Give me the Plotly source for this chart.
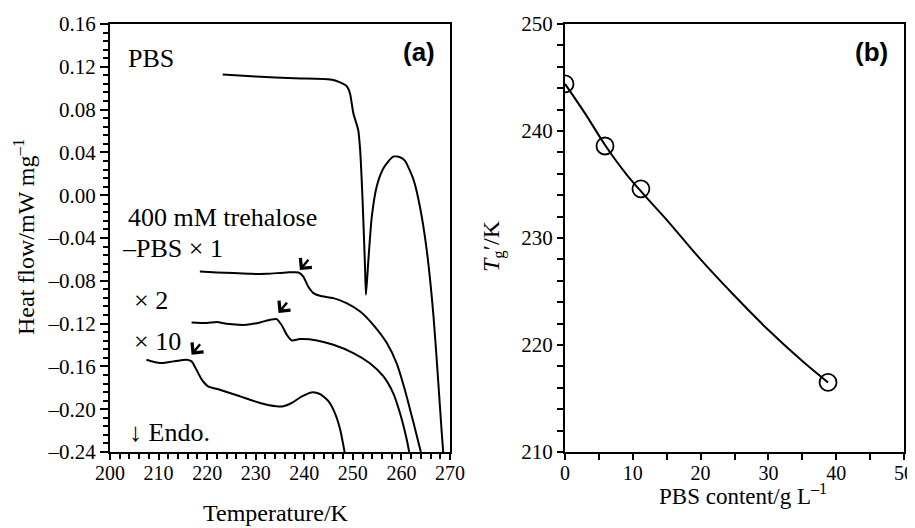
import plotly.graph_objects as go

# ---------------- Panel (a) data: DSC curves ----------------
pbs_T = [223.2, 230, 238, 246, 248.7, 249.4, 250.1, 251.1, 251.5, 252.0, 252.5, 252.7,
         253.2, 253.9, 254.9, 256.3, 258.3, 259.7, 260.7, 262.5, 263.8, 265.2, 266.6,
         267.6, 268.3, 268.6]
pbs_H = [0.1127, 0.1110, 0.1092, 0.1077, 0.1020, 0.0953, 0.0766, 0.0610, 0.0423, -0.0044,
         -0.0666, -0.0930, -0.0604, -0.0200, 0.0080, 0.0252, 0.0360, 0.0355, 0.0324,
         0.0143, -0.0106, -0.0510, -0.1130, -0.1756, -0.2220, -0.2400]

x1_T = [218.5, 222, 225.4, 229, 232.3, 236.4, 238.8, 239.8, 240.8, 241.9, 243.2, 246.0,
        248.7, 251.5, 254.2, 257.0, 259.0, 260.7, 262.5, 264.0]
x1_H = [-0.0713, -0.0722, -0.0728, -0.0735, -0.0735, -0.0722, -0.0722, -0.0760, -0.0853,
        -0.0915, -0.0940, -0.0962, -0.1009, -0.1087, -0.1211, -0.1382, -0.1570, -0.1818,
        -0.2130, -0.2400]

x2_T = [216.8, 219.9, 222, 224.0, 228.1, 230.9, 233.0, 234.3, 235.3, 236.4, 237.4, 239.1,
        242.6, 246.0, 250.1, 253.5, 256.3, 258.3, 259.7, 261.1, 261.6]
x2_H = [-0.1189, -0.1195, -0.1185, -0.1202, -0.1211, -0.1189, -0.1164, -0.1158, -0.1211,
        -0.1304, -0.1357, -0.1345, -0.1357, -0.1398, -0.1475, -0.1570, -0.1693, -0.1849,
        -0.2036, -0.2285, -0.2400]

x10_T = [207.5, 210.3, 213.0, 215.8, 216.8, 217.8, 218.9, 220.2, 222.6, 226.8, 230.9,
         234.3, 235.7, 237.4, 239.5, 241.5, 243.2, 245.0, 246.3, 247.4, 248.3]
x10_H = [-0.1538, -0.1569, -0.1553, -0.1538, -0.1553, -0.1631, -0.1724, -0.1787, -0.1818,
         -0.1880, -0.1942, -0.1973, -0.1973, -0.1942, -0.1880, -0.1843, -0.1858, -0.1927,
         -0.2036, -0.2191, -0.2400]

# Tg' arrows (tip T, tip H)
arrow_T = [239.1, 234.7, 216.8]
arrow_H = [-0.0700, -0.1100, -0.1490]

a_yticks = [0.16, 0.12, 0.08, 0.04, 0.00, -0.04, -0.08, -0.12, -0.16, -0.20, -0.24]
a_yticktext = ["0.16", "0.12", "0.08", "0.04", "0.00", "–0.04", "–0.08", "–0.12",
               "–0.16", "–0.20", "–0.24"]
a_xticks = [200, 210, 220, 230, 240, 250, 260, 270]

# ---------------- Panel (b) data ----------------
pbs_content = [0, 5.9, 11.2, 38.8]
tg_prime = [244.4, 238.6, 234.6, 216.5]
fit_x = [0, 3, 6, 9, 12, 15, 20, 25, 30, 35, 38.8]
fit_y = [244.4, 241.6, 238.6, 236.0, 233.8, 231.7, 228.0, 224.6, 221.4, 218.5, 216.5]

SERIF = "Liberation Serif, Times New Roman, serif"
SANS = "Liberation Sans, Arial, sans-serif"

# the page body has an 8 px margin; the figure fills the rest of the window
OFF = 8
W, H = 915 - OFF, 528 - OFF


def px(x):
    return (x - OFF) / W


def py(y):
    return 1 - (y - OFF) / H


fig = go.Figure()
for xs, ys in [(pbs_T, pbs_H), (x1_T, x1_H), (x2_T, x2_H), (x10_T, x10_H)]:
    fig.add_trace(go.Scatter(x=xs, y=ys, mode="lines",
                             line=dict(color="black", width=2, shape="spline", smoothing=0.6),
                             xaxis="x", yaxis="y", showlegend=False, hoverinfo="skip"))

fig.add_trace(go.Scatter(x=fit_x, y=fit_y, mode="lines", line=dict(color="black", width=2, shape="spline"),
                         xaxis="x2", yaxis="y2", showlegend=False))
fig.add_trace(go.Scatter(x=pbs_content, y=tg_prime, mode="markers",
                         marker=dict(symbol="circle-open", size=17, color="black", line=dict(width=1.8)),
                         xaxis="x2", yaxis="y2", showlegend=False))

ann = []
txt = dict(family=SERIF, size=26, color="black")
for t, x, y in [("PBS", 203.3, 0.128), ("400 mM trehalose", 203.3, -0.0213),
                ("–PBS × 1", 202.1, -0.0494), ("× 2", 204.5, -0.098), ("× 10", 204.5, -0.137),
                ("↓ Endo.", 203.6, -0.222)]:
    ann.append(dict(text=t, x=x, y=y, xref="x", yref="y", xanchor="left", yanchor="middle",
                    showarrow=False, font=txt))
for tx, ty in zip(arrow_T, arrow_H):
    ann.append(dict(x=tx, y=ty, xref="x", yref="y", ax=tx + 2.0, ay=ty + 0.011, axref="x", ayref="y",
                    text="", showarrow=True, arrowhead=4, arrowsize=1.2, arrowwidth=2.4, arrowcolor="black"))
ann.append(dict(text="<b>(a)</b>", x=267.3, y=0.134, xref="x", yref="y", xanchor="right",
                yanchor="middle", showarrow=False, font=dict(family=SANS, size=26, color="black")))
ann.append(dict(text="<b>(b)</b>", x=48.0, y=247.4, xref="x2", yref="y2", xanchor="right",
                yanchor="middle", showarrow=False, font=dict(family=SANS, size=26, color="black")))
# axis titles
ttl = dict(family=SERIF, size=24, color="black")
ann.append(dict(text="Temperature/K", x=px(276), y=py(513), xref="paper", yref="paper",
                showarrow=False, font=ttl, xanchor="center", yanchor="middle"))
ann.append(dict(text="Heat flow/mW mg<sup>–1</sup>", x=px(24), y=py(237), xref="paper", yref="paper",
                showarrow=False, font=ttl, textangle=-90, xanchor="center", yanchor="middle"))
ann.append(dict(text="PBS content/g L<sup>–1</sup>", x=px(743), y=py(494), xref="paper", yref="paper",
                showarrow=False, font=dict(family=SERIF, size=23, color="black"),
                xanchor="center", yanchor="middle"))
ann.append(dict(text="<i>T</i><sub>g</sub>′/K", x=px(493), y=py(246), xref="paper", yref="paper",
                showarrow=False, font=ttl, textangle=-90, xanchor="center", yanchor="middle"))

ydom = [py(452), py(24)]
xtickfont = dict(family=SERIF, size=20, color="black")
ytickfont = dict(family=SERIF, size=21, color="black")
common = dict(showgrid=False, zeroline=False, showline=True, linecolor="black", linewidth=2,
              mirror=True, ticks="outside", tickcolor="black", tickwidth=2, automargin=False)

fig.update_layout(
    width=W, height=H, margin=dict(l=0, r=0, t=0, b=0, pad=0, autoexpand=False),
    paper_bgcolor="white", plot_bgcolor="white",
    xaxis=dict(domain=[px(110), px(450)], range=[200, 270], tickvals=a_xticks, ticklen=6,
               tickfont=xtickfont, ticklabelstandoff=-4,
               minor=dict(dtick=2, tick0=200, ticks="outside", ticklen=5, tickwidth=2, tickcolor="black"),
               anchor="y", **common),
    yaxis=dict(domain=ydom, range=[-0.24, 0.16], tickvals=a_yticks, ticktext=a_yticktext, ticklen=8,
               tickfont=ytickfont,
               minor=dict(dtick=0.008, tick0=0, ticks="outside", ticklen=5, tickwidth=2, tickcolor="black"),
               anchor="x", **common),
    xaxis2=dict(domain=[px(565), px(904)], range=[0, 50], dtick=10, ticklen=6, tickfont=xtickfont,
                ticklabelstandoff=-4,
                minor=dict(dtick=5, ticks="outside", ticklen=6, tickwidth=2, tickcolor="black"),
                anchor="y2", **common),
    yaxis2=dict(domain=ydom, range=[210, 250], dtick=10, ticklen=6, tickfont=ytickfont,
                minor=dict(dtick=2, ticks="outside", ticklen=6, tickwidth=2, tickcolor="black"),
                anchor="x2", **common),
    annotations=ann,
)
fig.write_html("out.html")
